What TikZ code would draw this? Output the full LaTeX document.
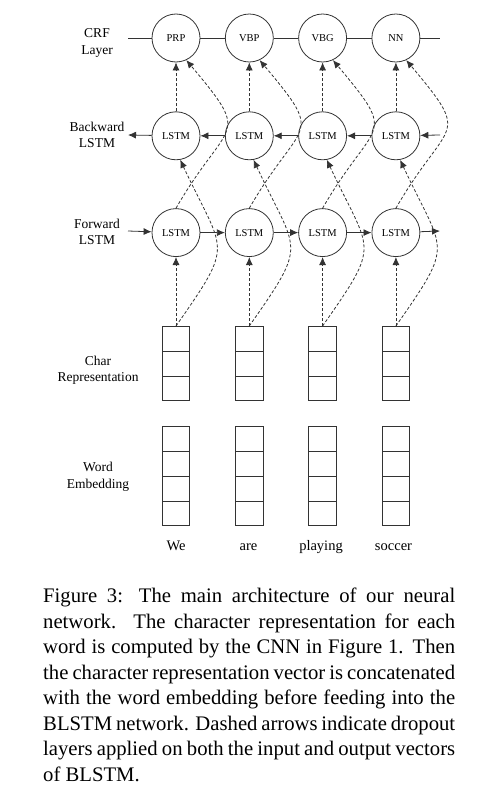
\documentclass[tikz,border=0pt]{standalone}
\usepackage{fontspec}
\setmainfont{Liberation Serif}
\usepackage{tikz}
\usetikzlibrary{positioning, shapes.multipart, arrows.meta}
\tikzstyle{Line} = [draw=black!80, line width=0.8pt]
\tikzstyle{Arrow} = [
    Line,
    -{Latex[length=8pt, width=7pt]}
]
\tikzstyle{Drop} = [Arrow, dash pattern=on 3pt off 2pt]

\begin{document}
\begin{tikzpicture}[
x=1pt, y=1pt,
node distance=24.5pt,
cell/.style={
    circle,
    draw=black!80,
    line width=0.8pt,
    minimum size=48pt,
    inner sep=0pt,
    font=\fontsize{10.5}{12}\selectfont
    },
array/.style={
    rectangle split,
    rectangle split parts=#1,
    draw=black!80,
    line width=0.8pt,
    inner sep=0pt,
    minimum width=23pt,
    rectangle split empty part width=23pt,
    rectangle split empty part height=24pt,
    rectangle split empty part depth=0pt
    },
layer/.style={align=center, font=\fontsize{13.5}{16.5}\selectfont},
word/.style={anchor=base, font=\fontsize{14.5}{17}\selectfont}
]
\useasboundingbox (0,0) rectangle (483,-800);

% CRF layer
\node[cell] (crf1) at (176,-38) {PRP};
\node[cell, right = of crf1] (crf2) {VBP};
\node[cell, right = of crf2] (crf3) {VBG};
\node[cell, right = of crf3] (crf4) {NN};

% backward LSTM
\node[cell, below = 49pt of crf1] (bl1) {LSTM};
\node[cell, right = of bl1] (bl2) {LSTM};
\node[cell, right = of bl2] (bl3) {LSTM};
\node[cell, right = of bl3] (bl4) {LSTM};

% forward LSTM
\node[cell, below = 48pt of bl1] (fl1) {LSTM};
\node[cell, right = of fl1] (fl2) {LSTM};
\node[cell, right = of fl2] (fl3) {LSTM};
\node[cell, right = of fl3] (fl4) {LSTM};

% char representation
\node[array=3, below = 69pt of fl1] (ch1) {\nodepart{two}\nodepart{three}};
\node[array=3, below = 69pt of fl2] (ch2) {\nodepart{two}\nodepart{three}};
\node[array=3, below = 69pt of fl3] (ch3) {\nodepart{two}\nodepart{three}};
\node[array=3, below = 69pt of fl4] (ch4) {\nodepart{two}\nodepart{three}};

% word embedding
\node[array=4, below = 25pt of ch1] (we1) {\nodepart{two}\nodepart{three}\nodepart{four}};
\node[array=4, below = 25pt of ch2] (we2) {\nodepart{two}\nodepart{three}\nodepart{four}};
\node[array=4, below = 25pt of ch3] (we3) {\nodepart{two}\nodepart{three}\nodepart{four}};
\node[array=4, below = 25pt of ch4] (we4) {\nodepart{two}\nodepart{three}\nodepart{four}};

\node[word] (w1) at (176,-550) {We};
\node[word] (w2) at (248.5,-550) {are};
\node[word] (w3) at (321,-550) {playing};
\node[word] (w4) at (393.5,-550) {soccer};

% row labels
\node[layer] (lcrf) at (97,-43) {CRF\\Layer};
\node[layer] (lbw) at (97,-135) {Backward\\LSTM};
\node[layer] (lfw) at (97,-232) {Forward\\LSTM};
\node[layer] (lch) at (98,-370) {Char\\Representation};
\node[layer] (lwe) at (98,-477) {Word\\Embedding};

% loose ends
\coordinate (cl) at (128,-38);
\coordinate (cr) at (440,-38);
\coordinate (bin) at (440,-135);
\coordinate (bout) at (128,-135);
\coordinate (fin) at (128,-231);
\coordinate (fout) at (440,-231);

\draw[Line] (cl) -- (crf1) -- (crf2) -- (crf3) -- (crf4) -- (cr);

\draw[Arrow] (bin) -- (bl4);
\draw[Arrow] (bl4) -- (bl3);
\draw[Arrow] (bl3) -- (bl2);
\draw[Arrow] (bl2) -- (bl1);
\draw[Arrow] (bl1) -- (bout);

\draw[Arrow] (fin) -- (fl1);
\draw[Arrow] (fl1) -- (fl2);
\draw[Arrow] (fl2) -- (fl3);
\draw[Arrow] (fl3) -- (fl4);
\draw[Arrow] (fl4) -- (fout);

% dropout
\draw[Drop] (ch1.north) -- (fl1);
\draw[Drop] (ch2.north) -- (fl2);
\draw[Drop] (ch3.north) -- (fl3);
\draw[Drop] (ch4.north) -- (fl4);

\draw[Drop] (bl1) -- (crf1);
\draw[Drop] (bl2) -- (crf2);
\draw[Drop] (bl3) -- (crf3);
\draw[Drop] (bl4) -- (crf4);

\draw[Drop] (ch1.north) to [out=55, in=-65, looseness=1.6] (bl1.-80);
\draw[Drop] (ch2.north) to [out=55, in=-65, looseness=1.6] (bl2.-80);
\draw[Drop] (ch3.north) to [out=55, in=-65, looseness=1.6] (bl3.-80);
\draw[Drop] (ch4.north) to [out=55, in=-65, looseness=1.6] (bl4.-80);

\draw[Drop] (fl1.north) to [out=60, in=-50, looseness=1.8] (crf1.-65);
\draw[Drop] (fl2.north) to [out=60, in=-50, looseness=1.8] (crf2.-65);
\draw[Drop] (fl3.north) to [out=60, in=-50, looseness=1.8] (crf3.-65);
\draw[Drop] (fl4.north) to [out=60, in=-50, looseness=1.8] (crf4.-65);

% caption
\node[anchor=north west, inner sep=0pt, text width=412pt, align=justify,
    font=\fontsize{20.7}{25.5}\selectfont] (cap) at (43,-588) {Figure 3:  The main architecture of our neural\linebreak
network.  The character representation for each\linebreak
word is computed by the CNN in Figure 1.  Then\linebreak
the character representation vector is concatenated\linebreak
with the word embedding before feeding into the\linebreak
BLSTM network. Dashed arrows indicate dropout\linebreak
layers applied on both the input and output vectors\linebreak
of BLSTM.};

\end{tikzpicture}
\end{document}
